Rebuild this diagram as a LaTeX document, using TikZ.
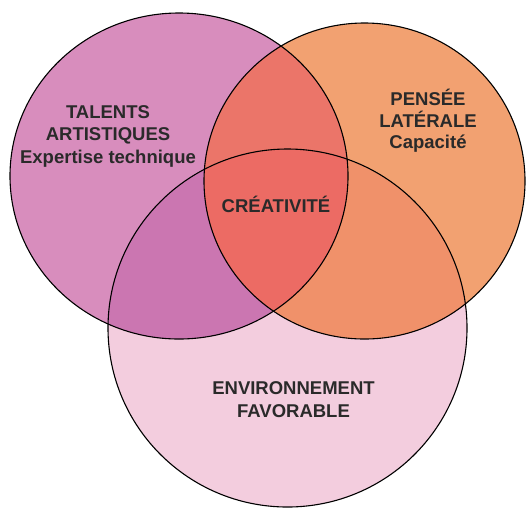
\documentclass[tikz,border=0pt]{standalone}
\usepackage{fontspec}
\setmainfont{Liberation Sans}
\definecolor{leftc}{HTML}{D88DBD}
\definecolor{rightc}{HTML}{F2A171}
\definecolor{botc}{HTML}{F3CDDE}
\definecolor{lrc}{HTML}{EB7569}
\definecolor{lbc}{HTML}{CB76B1}
\definecolor{rbc}{HTML}{F0916A}
\definecolor{allc}{HTML}{EC6B64}
\definecolor{labelgray}{HTML}{2A2A2A}
\begin{document}
\begin{tikzpicture}[x=1pt,y=-1pt,
  lbl/.style={font=\bfseries\fontsize{18.5}{22}\selectfont, text=labelgray, inner sep=0pt, anchor=base},
  rim/.style={draw=black, line width=1.1pt},
  rA/.style={x radius=169pt, y radius=163pt},
  rB/.style={x radius=160.5pt, y radius=158pt},
  rC/.style={x radius=179.5pt, y radius=179pt}]
\useasboundingbox (0,0) rectangle (526,507);
\coordinate (cA) at (179,176);
\coordinate (cB) at (364.5,181);
\coordinate (cC) at (287.5,328);

% single sets
\fill[leftc] (cA) ellipse [rA];
\fill[rightc] (cB) ellipse [rB];
\fill[botc] (cC) ellipse [rC];
% pairwise overlaps
\begin{scope}
  \clip (cA) ellipse [rA];
  \fill[lrc] (cB) ellipse [rB];
\end{scope}
\begin{scope}
  \clip (cA) ellipse [rA];
  \fill[lbc] (cC) ellipse [rC];
\end{scope}
\begin{scope}
  \clip (cB) ellipse [rB];
  \fill[rbc] (cC) ellipse [rC];
\end{scope}
% centre overlap
\begin{scope}
  \clip (cA) ellipse [rA];
  \clip (cB) ellipse [rB];
  \fill[allc] (cC) ellipse [rC];
\end{scope}
% outlines
\draw[rim] (cA) ellipse [rA];
\draw[rim] (cB) ellipse [rB];
\draw[rim] (cC) ellipse [rC];

% labels
\node[lbl] (tal1) at (108,118) {TALENTS};
\node[lbl] (tal2) at (108,140) {ARTISTIQUES};
\node[lbl] (tal3) at (108,163) {Expertise technique};
\node[lbl] (pen1) at (428,105) {PENSÉE};
\node[lbl] (pen2) at (428,127) {LATÉRALE};
\node[lbl] (pen3) at (428,148) {Capacité};
\node[lbl] (cre) at (276,212) {CRÉATIVITÉ};
\node[lbl] (env1) at (293.5,394) {ENVIRONNEMENT};
\node[lbl] (env2) at (293.5,417) {FAVORABLE};
\end{tikzpicture}
\end{document}
